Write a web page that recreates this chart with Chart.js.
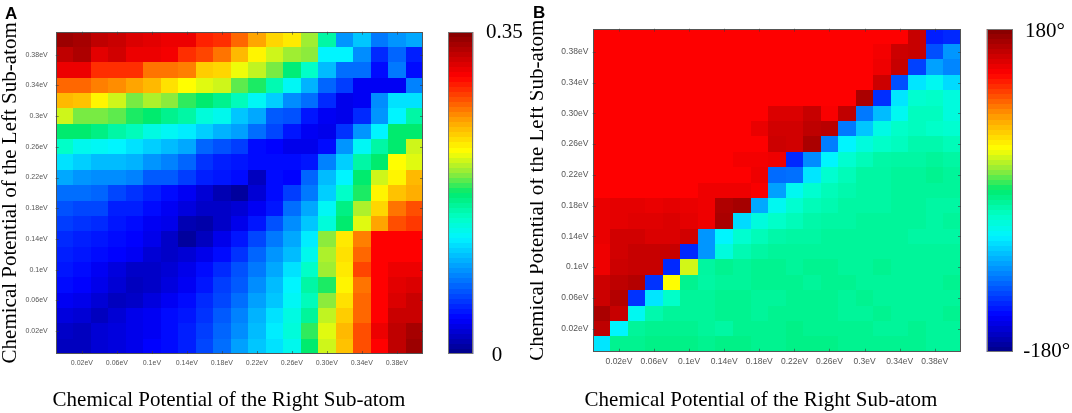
<!DOCTYPE html>
<html>
<head>
<meta charset="utf-8">
<script src="https://cdn.jsdelivr.net/npm/chart.js@4.4.0/dist/chart.umd.min.js"></script>
<style>
  html, body { margin: 0; padding: 0; background: #fff; }
  body { width: 1072px; height: 413px; position: relative; overflow: hidden; }
  .panel { position: absolute; top: 0; height: 413px; }
  #panelA { left: 0; width: 536px; }
  #panelB { left: 530px; width: 542px; }
</style>
</head>
<body>
<div class="panel" id="panelA"><canvas id="chart-amp"></canvas></div>
<div class="panel" id="panelB"><canvas id="chart-phase"></canvas></div>
<script>
// chemical potential of each sub-atom (eV), one value per cell
const potentials = [0.00, 0.02, 0.04, 0.06, 0.08, 0.10, 0.12, 0.14, 0.16, 0.18, 0.20,
                    0.22, 0.24, 0.26, 0.28, 0.30, 0.32, 0.34, 0.36, 0.38, 0.40];
const tickValues = [0.02, 0.06, 0.10, 0.14, 0.18, 0.22, 0.26, 0.30, 0.34, 0.38];

const ampXLabels = ['0.02eV', '0.06eV', '0.1eV', '0.14eV', '0.18eV', '0.22eV', '0.26eV', '0.30eV', '0.34eV', '0.38eV'];
const ampYLabels = ['0.02eV', '0.06eV', '0.1eV', '0.14eV', '0.18eV', '0.22eV', '0.26eV', '0.3eV', '0.34eV', '0.38eV'];
const phaseXLabels = ['0.02eV', '0.06eV', '0.1eV', '0.14eV', '0.18eV', '0.22eV', '0.26eV', '0.3eV', '0.34eV', '0.38eV'];
const phaseYLabels = ['0.02eV', '0.06eV', '0.1eV', '0.14eV', '0.18eV', '0.22eV', '0.26eV', '0.30eV', '0.34eV', '0.38eV'];

const ampRange = [0, 0.35];
const ampRangeLabels = ['0', '0.35'];
const phaseRange = [-180, 180];
const phaseRangeLabels = ['-180°', '180°'];

// rows go from the top (left sub-atom 0.40eV) down to 0eV,
// columns from right sub-atom 0eV to 0.40eV
const amplitudeRows = [
  [0.340,0.336,0.326,0.322,0.315,0.312,0.308,0.308,0.291,0.287,0.270,0.252,0.235,0.228,0.200,0.158,0.091,0.109,0.081,0.091,0.098],
  [0.326,0.333,0.312,0.319,0.308,0.308,0.305,0.287,0.280,0.266,0.245,0.224,0.210,0.200,0.196,0.126,0.126,0.088,0.053,0.074,0.049],
  [0.308,0.308,0.287,0.287,0.287,0.266,0.266,0.263,0.238,0.235,0.217,0.207,0.193,0.172,0.147,0.105,0.077,0.077,0.042,0.081,0.042],
  [0.270,0.270,0.263,0.259,0.252,0.245,0.231,0.221,0.214,0.210,0.189,0.179,0.154,0.130,0.102,0.074,0.060,0.035,0.035,0.035,0.084],
  [0.245,0.242,0.224,0.210,0.193,0.203,0.196,0.182,0.175,0.165,0.151,0.130,0.112,0.088,0.077,0.053,0.032,0.035,0.088,0.119,0.119],
  [0.210,0.193,0.193,0.189,0.179,0.175,0.165,0.158,0.140,0.133,0.109,0.098,0.070,0.067,0.046,0.035,0.032,0.053,0.091,0.126,0.158],
  [0.175,0.175,0.168,0.158,0.151,0.137,0.130,0.123,0.112,0.102,0.095,0.077,0.063,0.046,0.035,0.032,0.056,0.091,0.126,0.175,0.175],
  [0.147,0.133,0.130,0.126,0.119,0.112,0.105,0.098,0.074,0.067,0.060,0.042,0.039,0.032,0.032,0.042,0.091,0.130,0.158,0.175,0.210],
  [0.119,0.112,0.105,0.105,0.102,0.091,0.084,0.074,0.056,0.049,0.046,0.042,0.042,0.042,0.046,0.084,0.112,0.158,0.175,0.221,0.214],
  [0.098,0.091,0.088,0.088,0.084,0.070,0.070,0.060,0.049,0.046,0.042,0.018,0.042,0.039,0.074,0.105,0.126,0.175,0.210,0.224,0.245],
  [0.077,0.077,0.074,0.063,0.056,0.049,0.042,0.035,0.025,0.014,0.007,0.025,0.042,0.060,0.081,0.112,0.147,0.179,0.224,0.242,0.249],
  [0.067,0.063,0.063,0.049,0.049,0.042,0.035,0.028,0.021,0.021,0.025,0.035,0.046,0.077,0.098,0.130,0.168,0.203,0.235,0.266,0.277],
  [0.060,0.056,0.053,0.046,0.042,0.035,0.032,0.014,0.011,0.021,0.032,0.046,0.067,0.088,0.109,0.140,0.175,0.214,0.252,0.277,0.284],
  [0.053,0.049,0.046,0.042,0.039,0.032,0.021,0.007,0.018,0.032,0.046,0.063,0.081,0.098,0.123,0.196,0.228,0.263,0.301,0.301,0.301],
  [0.049,0.046,0.042,0.039,0.035,0.025,0.021,0.025,0.032,0.042,0.056,0.074,0.091,0.105,0.133,0.203,0.231,0.270,0.301,0.301,0.301],
  [0.046,0.042,0.035,0.028,0.021,0.021,0.025,0.032,0.042,0.053,0.067,0.081,0.098,0.119,0.147,0.200,0.228,0.280,0.301,0.308,0.308],
  [0.042,0.039,0.032,0.025,0.018,0.021,0.028,0.035,0.046,0.060,0.070,0.088,0.105,0.126,0.158,0.179,0.224,0.266,0.301,0.312,0.315],
  [0.035,0.032,0.025,0.018,0.021,0.028,0.035,0.042,0.053,0.063,0.077,0.095,0.109,0.130,0.151,0.196,0.231,0.270,0.301,0.315,0.322],
  [0.028,0.025,0.018,0.025,0.032,0.035,0.042,0.046,0.056,0.070,0.084,0.102,0.119,0.137,0.161,0.207,0.238,0.270,0.301,0.322,0.322],
  [0.021,0.018,0.025,0.028,0.032,0.035,0.042,0.049,0.060,0.074,0.088,0.105,0.123,0.140,0.182,0.214,0.245,0.277,0.308,0.326,0.336],
  [0.018,0.018,0.025,0.028,0.032,0.039,0.042,0.049,0.063,0.077,0.095,0.109,0.119,0.133,0.175,0.210,0.242,0.277,0.301,0.326,0.340]
];

// phase in degrees, same layout
const phaseRows = [
  [130,130,130,130,130,130,130,130,130,130,130,130,130,130,130,130,130,130,152,-130,-126],
  [130,130,130,130,130,130,130,130,130,130,130,130,130,130,130,130,134,150,152,-112,-86],
  [130,130,130,130,130,130,130,130,130,130,130,130,130,130,130,130,136,152,-117,-82,-92],
  [130,130,130,130,130,130,130,130,130,130,130,130,130,130,130,130,150,-112,-56,-45,-60],
  [130,130,130,130,130,130,130,130,130,130,130,130,130,130,130,164,-124,-56,-32,-29,-37],
  [130,130,130,130,130,130,130,130,130,130,144,144,152,132,155,-97,-72,-45,-26,-26,-37],
  [130,130,130,130,130,130,130,130,130,138,148,148,156,158,-97,-68,-40,-29,-26,-29,-32],
  [130,130,130,130,130,130,130,130,130,130,150,148,164,-95,-50,-37,-29,-26,-20,-20,-24],
  [130,130,130,130,130,130,130,130,134,134,136,-126,-90,-50,-32,-24,-18,-17,-17,-14,-17],
  [130,130,130,130,130,130,130,130,130,136,-102,-100,-56,-32,-24,-17,-17,-14,-14,-11,-14],
  [130,130,130,130,130,130,136,136,136,132,-82,-45,-32,-24,-20,-17,-17,-14,-14,-14,-14],
  [138,140,140,138,140,138,136,162,166,-79,-45,-32,-24,-21,-17,-17,-17,-14,-14,-17,-17],
  [138,140,142,142,144,140,136,164,-60,-37,-29,-24,-19,-17,-17,-14,-14,-14,-14,-17,-14],
  [138,148,148,144,144,148,-86,-50,-32,-24,-19,-17,-17,-14,-14,-14,-14,-14,-17,-17,-17],
  [136,148,152,152,152,-126,-86,-37,-22,-17,-14,-14,-14,-14,-14,-14,-14,-14,-14,-14,-14],
  [136,150,152,152,-126,37,-16,-11,-14,-11,-11,-14,-11,-11,-14,-14,-11,-14,-14,-14,-14],
  [150,156,160,-122,47,-11,-17,-14,-14,-11,-11,-11,-14,-11,-11,-14,-14,-14,-14,-14,-11],
  [150,160,-122,-56,-29,-14,-14,-11,-11,-14,-14,-11,-11,-11,-14,-11,-14,-14,-14,-14,-14],
  [164,152,-45,-20,-14,-14,-14,-11,-11,-14,-11,-11,-11,-11,-14,-14,-11,-14,-14,-14,-11],
  [156,-50,-14,-11,-11,-11,-14,-17,-11,-11,-11,-8,-11,-11,-11,-11,-14,-14,-11,-14,-14],
  [-56,-11,-11,-8,-8,-8,-11,-8,-8,-11,-11,-8,-8,-8,-11,-11,-11,-11,-11,-14,-14]
];

const serif = "'Liberation Serif', 'Times New Roman', serif";
const sans = "'Liberation Sans', Arial, sans-serif";

// jet-like colour map
const jetStops = [
  [0.00, 0, 0, 135], [0.11, 0, 0, 255], [0.24, 0, 130, 255], [0.36, 0, 245, 255],
  [0.42, 0, 255, 200], [0.50, 0, 235, 110], [0.56, 140, 235, 60], [0.63, 255, 255, 0],
  [0.72, 255, 165, 0], [0.79, 255, 80, 0], [0.86, 255, 0, 0], [1.00, 130, 0, 0]
];

function jet(t) {
  t = Math.min(1, Math.max(0, t));
  for (let i = 1; i < jetStops.length; i++) {
    const a = jetStops[i - 1], b = jetStops[i];
    if (t <= b[0]) {
      const f = (t - a[0]) / (b[0] - a[0]);
      const c = [1, 2, 3].map(k => Math.round(a[k] + (b[k] - a[k]) * f));
      return 'rgb(' + c.join(',') + ')';
    }
  }
  return 'rgb(130,0,0)';
}

function toCells(rows) {
  const cells = [];
  rows.forEach((row, r) => {
    const y = potentials[potentials.length - 1 - r];
    row.forEach((v, c) => cells.push({x: potentials[c], y: y, v: v}));
  });
  return cells;
}

// draws the cells, the frame, the colour bar and the loose texts
const heatmapPlugin = {
  id: 'heatmap',
  beforeDatasetsDraw(chart, args, opts) {
    const {ctx, scales: {x, y}} = chart;
    const half = opts.cellSize / 2;
    const [lo, hi] = opts.range;
    ctx.save();
    chart.data.datasets[0].data.forEach(p => {
      const x0 = Math.round(x.getPixelForValue(p.x - half));
      const x1 = Math.round(x.getPixelForValue(p.x + half));
      const y0 = Math.round(y.getPixelForValue(p.y + half));
      const y1 = Math.round(y.getPixelForValue(p.y - half));
      ctx.fillStyle = jet((p.v - lo) / (hi - lo));
      ctx.fillRect(x0, y0, x1 - x0, y1 - y0);
    });
    ctx.restore();
  },
  afterDraw(chart, args, opts) {
    const {ctx, chartArea: a, scales: {x, y}} = chart;
    ctx.save();

    // frame with small inward ticks
    ctx.strokeStyle = '#555';
    ctx.lineWidth = 1;
    ctx.strokeRect(Math.round(a.left) + 0.5, Math.round(a.top) + 0.5,
                   Math.round(a.right - a.left) - 1, Math.round(a.bottom - a.top) - 1);
    ctx.strokeStyle = 'rgba(60,60,60,0.6)';
    ctx.beginPath();
    tickValues.forEach(v => {
      const px = Math.round(x.getPixelForValue(v)) + 0.5;
      const py = Math.round(y.getPixelForValue(v)) + 0.5;
      ctx.moveTo(px, a.bottom); ctx.lineTo(px, a.bottom - 3);
      ctx.moveTo(px, a.top); ctx.lineTo(px, a.top + 3);
      ctx.moveTo(a.left, py); ctx.lineTo(a.left + 3, py);
      ctx.moveTo(a.right, py); ctx.lineTo(a.right - 3, py);
    });
    ctx.stroke();

    // colour bar, 64 steps like the original
    const cb = opts.colorbar;
    const steps = 64;
    const h = a.bottom - a.top;
    for (let i = 0; i < steps; i++) {
      const yb = Math.round(a.bottom - h * i / steps);
      const yt = Math.round(a.bottom - h * (i + 1) / steps);
      ctx.fillStyle = jet((i + 0.5) / steps);
      ctx.fillRect(cb.left, yt, cb.width, yb - yt);
    }
    ctx.strokeStyle = '#777';
    ctx.strokeRect(Math.round(cb.left) + 0.5, Math.round(a.top) + 0.5,
                   Math.round(cb.width) - 1, Math.round(h) - 1);

    ctx.fillStyle = '#000';
    ctx.font = '21px ' + serif;
    ctx.textAlign = 'left';
    ctx.textBaseline = 'middle';
    ctx.fillText(opts.rangeLabels[1], cb.maxX, cb.maxY);
    ctx.fillText(opts.rangeLabels[0], cb.minX, cb.minY);

    // x axis title
    ctx.textAlign = 'center';
    ctx.textBaseline = 'alphabetic';
    ctx.fillText(opts.xTitle.text, opts.xTitle.x, opts.xTitle.y);

    // panel letter
    ctx.font = 'bold 17px ' + sans;
    ctx.textAlign = 'left';
    ctx.fillText(opts.letter.text, opts.letter.x, opts.letter.y);
    ctx.restore();
  }
};

function makeHeatmap(canvasId, cfg) {
  return new Chart(document.getElementById(canvasId), {
    type: 'scatter',
    data: {
      datasets: [{ data: toCells(cfg.rows), pointRadius: 0, pointHoverRadius: 0 }]
    },
    options: {
      responsive: true,
      maintainAspectRatio: false,
      animation: false,
      events: [],
      layout: { padding: cfg.padding },
      plugins: {
        legend: { display: false },
        tooltip: { enabled: false },
        heatmap: {
          cellSize: 0.02,
          range: cfg.range,
          rangeLabels: cfg.rangeLabels,
          colorbar: cfg.colorbar,
          xTitle: cfg.xTitle,
          letter: cfg.letter
        }
      },
      scales: {
        x: {
          type: 'linear', min: -0.01, max: 0.41,
          grid: { display: false, drawTicks: false },
          border: { display: false },
          afterBuildTicks: s => { s.ticks = tickValues.map(v => ({ value: v })); },
          afterFit: s => { s.height = cfg.xAxisHeight; },
          ticks: {
            autoSkip: false, maxRotation: 0, padding: cfg.tickPadX, color: '#555',
            font: { family: sans, size: cfg.tickSize },
            callback: (v, i) => cfg.xLabels[i]
          }
        },
        y: {
          type: 'linear', min: -0.01, max: 0.41,
          grid: { display: false, drawTicks: false },
          border: { display: false },
          afterBuildTicks: s => { s.ticks = tickValues.map(v => ({ value: v })); },
          afterFit: s => { s.width = cfg.yAxisWidth; },
          ticks: {
            autoSkip: false, padding: cfg.tickPadY, color: '#555',
            font: { family: sans, size: cfg.tickSize },
            callback: (v, i) => cfg.yLabels[i]
          },
          title: {
            display: true,
            text: 'Chemical Potential of the Left Sub-atom',
            color: '#000',
            font: { family: serif, size: 21, lineHeight: 1 },
            padding: { top: cfg.yTitlePad, bottom: 0 }
          }
        }
      }
    },
    plugins: [heatmapPlugin]
  });
}

makeHeatmap('chart-amp', {
  rows: amplitudeRows,
  range: ampRange,
  rangeLabels: ampRangeLabels,
  xLabels: ampXLabels,
  yLabels: ampYLabels,
  padding: { left: 0, top: 31.7, right: 113, bottom: 0 },
  yAxisWidth: 55.7,
  xAxisHeight: 59,
  tickSize: 7,
  tickPadX: 4.5,
  tickPadY: 8,
  yTitlePad: 0,
  colorbar: { left: 448.3, width: 25, maxX: 486, maxY: 32.5, minX: 491.7, minY: 355 },
  xTitle: { text: 'Chemical Potential of the Right Sub-atom', x: 229, y: 406 },
  letter: { text: 'A', x: 5, y: 18.5 }
});

makeHeatmap('chart-phase', {
  rows: phaseRows,
  range: phaseRange,
  rangeLabels: phaseRangeLabels,
  xLabels: phaseXLabels,
  yLabels: phaseYLabels,
  padding: { left: 0, top: 28.7, right: 111, bottom: 0 },
  yAxisWidth: 62.7,
  xAxisHeight: 61.3,
  tickSize: 8.5,
  tickPadX: 5,
  tickPadY: 4.4,
  yTitlePad: -3,
  colorbar: { left: 456.7, width: 25.6, maxX: 495, maxY: 31, minX: 493.3, minY: 351.5 },
  xTitle: { text: 'Chemical Potential of the Right Sub-atom', x: 231, y: 406 },
  letter: { text: 'B', x: 3, y: 17.5 }
});
</script>
</body>
</html>
